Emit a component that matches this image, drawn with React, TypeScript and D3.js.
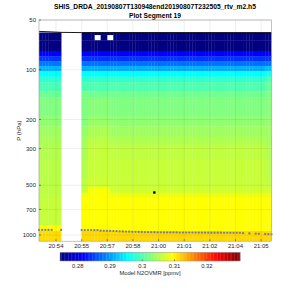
import React from "react";
import * as d3 from "d3";

const title1 = "SHIS_DRDA_20190807T130948end20190807T232505_rtv_m2.h5";
const title2 = "Plot Segment 19";

// time axis: seconds after 20:53:39
const baseTime = new Date(2019, 7, 7, 20, 53, 39);
const cadence = 10.18;
const preGapCount = 8;
const postGapStart = 137.3;
const postGapCount = 61;
const axisEnd = 748;
const tickSeconds = [54.7, 137.2, 219.7, 302.2, 384.7, 467.2, 549.7, 632.2, 714.7];

const yTicks = [50, 100, 200, 300, 500, 700, 1000];
const cbTicks = [0.28, 0.29, 0.3, 0.31, 0.32];
const cbDomain: [number, number] = [0.2745, 0.3303];

// retrieval layer boundaries (hPa), top to bottom
const layerEdges = [59.5, 61.4, 66.3, 77, 83, 89, 95, 102, 110, 119, 135, 147, 192, 220, 254, 284, 350, 450, 511, 555, 596, 870, 945, 1090];

// N2O VMR (ppmv) for each layer
const westProfile = [0.27, 0.27, 0.27, 0.2815, 0.2845, 0.288, 0.2915, 0.2954, 0.2978, 0.2995, 0.3012, 0.3024, 0.3033, 0.3041, 0.3047, 0.3052, 0.3055, 0.3056, 0.3057, 0.3058, 0.3062, 0.3094, 0.3113];
const midAProfile = [0.27, 0.27, 0.27, 0.2815, 0.2842, 0.2876, 0.2911, 0.2954, 0.298, 0.2995, 0.302, 0.3022, 0.3026, 0.3036, 0.3044, 0.3048, 0.3052, 0.3058, 0.3062, 0.3088, 0.3094, 0.3096, 0.3115];
const midProfile = [0.27, 0.27, 0.27, 0.2815, 0.2842, 0.2876, 0.2911, 0.2954, 0.2981, 0.2998, 0.3016, 0.3028, 0.3038, 0.3048, 0.3056, 0.3062, 0.3063, 0.3066, 0.309, 0.3092, 0.3094, 0.3096, 0.3115];
const eastProfile = [0.27, 0.27, 0.27, 0.2815, 0.2842, 0.2876, 0.2911, 0.2954, 0.2981, 0.2998, 0.3016, 0.3024, 0.3033, 0.3041, 0.305, 0.3059, 0.3063, 0.3063, 0.3068, 0.3085, 0.3094, 0.3094, 0.3115];
const edgeProfile = [0.27, 0.27, 0.27, 0.2815, 0.2842, 0.2876, 0.292, 0.2965, 0.2995, 0.301, 0.3022, 0.3028, 0.3035, 0.304, 0.3045, 0.305, 0.3055, 0.306, 0.307, 0.3085, 0.3094, 0.3094, 0.3115];

// which profile each column uses: [name, first column, last column]
const profileSpans: [string, number, number][] = [
  ["west", 0, 6],
  ["midA", 8, 9],
  ["mid", 10, 16],
  ["east", 17, 65],
  ["edge", 66, 67],
];
// missing cells [column, layer]
const missingCells: [number, number][] = [[12, 1], [13, 1], [16, 1], [17, 1]];

// surface pressure (hPa) per column, NaN = none
const surfacePressure = [
  932, 932, 932, 932, 932, NaN, NaN, 932,
  933, 933, 934, 934, 935, 935, 942, 943, 944, 945, 946, 947,
  950, 952, 953, 955, 956, 957, 958, 959, 960, 961,
  962, 962, 963, 963, 964, 964, 965, 965, 965, 966, 966, 966, 967, 967, 967, 968, 968, 968, 968, 969,
  969, 969, 969, 970, 970, 970, 970, 970, 970,
  975, NaN, 978, NaN, 981, 983, NaN, 986, 988, 990,
];

const topLine: [number, number][] = [[0, 58.6], [40, 59.0], [71, 59.4], [137, 59.6], [748, 59.7]];
const blackPoint: [number, number] = [371, 553];

const margin = { left: 39, right: 28.5, top: 20, bottom: 58.8 };
const W = 300, H = 300;

function jet(t: number) {
  const c = (v: number) => Math.round(255 * Math.max(0, Math.min(1, v)));
  const tt = Math.max(0, Math.min(1, t));
  return `rgb(${c(1.5 - Math.abs(4 * tt - 3))},${c(1.5 - Math.abs(4 * tt - 2))},${c(1.5 - Math.abs(4 * tt - 1))})`;
}

export default function App() {
  const profiles: Record<string, number[]> = { west: westProfile, midA: midAProfile, mid: midProfile, east: eastProfile, edge: edgeProfile };
  const colTimes: number[] = [];
  for (let i = 0; i < preGapCount; i++) colTimes.push(i * cadence);
  for (let i = 0; i < postGapCount; i++) colTimes.push(postGapStart + i * cadence);
  const toDate = (s: number) => new Date(baseTime.getTime() + s * 1000);

  const x = d3.scaleTime().domain([toDate(0), toDate(axisEnd)]).range([margin.left, W - margin.right]);
  const y = d3.scaleLog().domain([50, 1090]).range([margin.top, H - margin.bottom]);
  const tcol = d3.scaleLinear().domain(cbDomain).range([0, 1]);
  const fmt = d3.timeFormat("%H:%M");

  const missing = new Set(missingCells.map(([c, l]) => c + "-" + l));
  const cells: JSX.Element[] = [];
  profileSpans.forEach(([name, a, b]) => {
    const prof = profiles[name];
    for (let c = a; c <= b; c++) {
      const x0 = x(toDate(colTimes[c]));
      const x1 = x(toDate(colTimes[c + 1]));
      prof.forEach((v, l) => {
        if (missing.has(c + "-" + l)) return;
        const y0 = y(layerEdges[l]);
        const y1 = y(Math.min(layerEdges[l + 1], 1090));
        cells.push(<rect key={c + "-" + l} x={x0} y={y0} width={x1 - x0 + 0.3} height={y1 - y0 + 0.3} fill={jet(tcol(v))} />);
      });
    }
  });

  const x0 = margin.left, x1 = W - margin.right, y0 = margin.top, y1 = H - margin.bottom;
  const line = d3.line<[number, number]>().x((d) => x(toDate(d[0]))).y((d) => y(d[1]));

  const cb = { x: 60, y: 252.3, w: 180, h: 8.7 };
  const cbScale = d3.scaleLinear().domain(cbDomain).range([cb.x, cb.x + cb.w]);
  const cbSteps = d3.range(128);

  const font = "'Liberation Sans', Arial, sans-serif";
  return (
    <svg width={W} height={H} style={{ position: "absolute", left: 0, top: 0 }} fontFamily={font}>
      <rect width={W} height={H} fill="#fff" />
      <text x={155} y={8.5} textAnchor="middle" fontSize={6.7} fontWeight="bold" fill="#000">{title1}</text>
      <text x={155} y={18} textAnchor="middle" fontSize={6.7} fontWeight="bold" fill="#000">{title2}</text>
      <defs>
        <clipPath id="plotclip"><rect x={x0} y={y0} width={x1 - x0} height={y1 - y0} /></clipPath>
      </defs>
      <g clipPath="url(#plotclip)">
        {cells}
        <path d={line(topLine) || ""} fill="none" stroke="#000" strokeWidth={0.9} />
      </g>
      {/* grid */}
      <g stroke="#262626" strokeOpacity={0.13} strokeWidth={0.6}>
        {tickSeconds.map((s) => <line key={"gx" + s} x1={x(toDate(s))} x2={x(toDate(s))} y1={y0} y2={y1} />)}
        {yTicks.map((p) => <line key={"gy" + p} x1={x0} x2={x1} y1={y(p)} y2={y(p)} />)}
      </g>
      {surfacePressure.map((p, i) =>
        isNaN(p) ? null : <circle key={"sp" + i} cx={x(toDate(colTimes[i]))} cy={y(p)} r={1.15} fill="#7c7c9c" />
      )}
      <rect x={x(toDate(blackPoint[0])) - 1.2} y={y(blackPoint[1]) - 1.2} width={2.4} height={2.4} fill="#000" />
      {/* axes box and ticks */}
      <rect x={x0} y={y0} width={x1 - x0} height={y1 - y0} fill="none" stroke="#9a9a9a" strokeWidth={0.6} />
      <g stroke="#262626" strokeWidth={0.5}>
        {tickSeconds.map((s) => <line key={"tx" + s} x1={x(toDate(s))} x2={x(toDate(s))} y1={y1} y2={y1 - 2} />)}
        {yTicks.map((p) => <line key={"ty" + p} x1={x0} x2={x0 + 2} y1={y(p)} y2={y(p)} />)}
      </g>
      <g fontSize={6} fill="#262626">
        {tickSeconds.map((s) => (
          <text key={"lx" + s} x={x(toDate(s))} y={y1 + 7} textAnchor="middle">{fmt(toDate(s))}</text>
        ))}
        {yTicks.map((p) => (
          <text key={"ly" + p} x={x0 - 3} y={y(p) + 2.1} textAnchor="end">{p}</text>
        ))}
      </g>
      <text transform={`translate(21,${(y0 + y1) / 2}) rotate(-90)`} textAnchor="middle" fontSize={6} fill="#262626">P (hPa)</text>
      {/* colorbar */}
      {cbSteps.map((i) => (
        <rect key={"cb" + i} x={cb.x + (i * cb.w) / cbSteps.length} y={cb.y} width={cb.w / cbSteps.length + 0.3} height={cb.h} fill={jet(i / (cbSteps.length - 1))} />
      ))}
      <rect x={cb.x} y={cb.y} width={cb.w} height={cb.h} fill="none" stroke="#9a9a9a" strokeWidth={0.5} />
      <g fontSize={5.8} fill="#262626">
        {cbTicks.map((v) => (
          <g key={"cbt" + v}>
            <line x1={cbScale(v)} x2={cbScale(v)} y1={cb.y + cb.h} y2={cb.y + cb.h - 1.5} stroke="#262626" strokeWidth={0.5} />
            <text x={cbScale(v)} y={cb.y + cb.h + 6.8} textAnchor="middle">{v}</text>
          </g>
        ))}
        <text x={cb.x + cb.w / 2} y={cb.y + cb.h + 13.8} textAnchor="middle">Model N2OVMR [ppmv]</text>
      </g>
    </svg>
  );
}
